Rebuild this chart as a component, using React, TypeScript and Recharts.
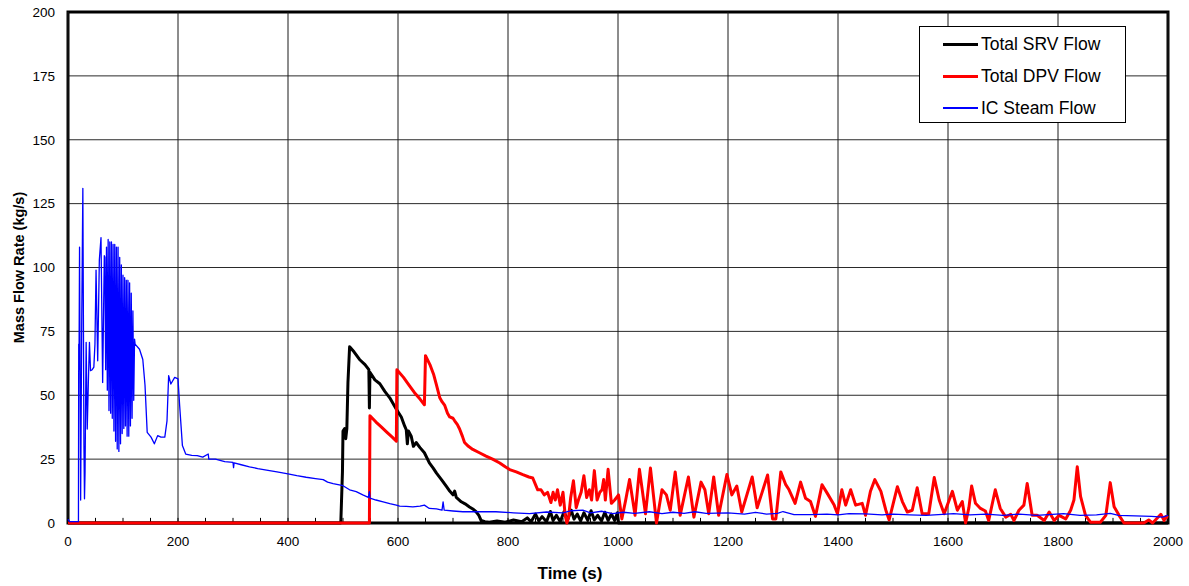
import { LineChart, Line, XAxis, YAxis, CartesianGrid, Legend, ReferenceArea, ReferenceLine, Label } from "recharts";

const FONT = "'Liberation Sans', Arial, sans-serif";

// [time (s), mass flow (kg/s)]
const srvFlow: [number, number][] = [
  [0, 0], [496, 0], [499, 20], [500, 36], [503, 37], [505, 33], [507, 37], [509, 55], [512, 69],
  [520, 67], [530, 64], [540, 62], [547, 60], [548, 45], [549, 59], [558, 56], [567, 54.5],
  [576, 51.5], [585, 49], [597, 44.5], [606, 41.5], [612, 38], [615, 36.5], [617, 31], [619, 36],
  [624, 34], [628, 30], [633, 31.5], [640, 29.5], [648, 27.5], [657, 23.5], [664, 21.5],
  [670, 19.5], [679, 17], [688, 14.3], [694, 12.5], [700, 11], [703, 12.5], [706, 10], [715, 8.3],
  [722, 7.5], [730, 6.3], [736, 5.5], [742, 4.4], [747, 3], [751, 1], [758, 0.5], [766, 0.3],
  [780, 0.8], [795, 0.3], [810, 1.2], [825, 0.5], [835, 2], [842, 0.5], [850, 3.5], [856, 0.8],
  [862, 2.5], [870, 0.5], [877, 4.5], [882, 1], [888, 3], [895, 0.5], [902, 4.5], [908, 1],
  [915, 5], [920, 1.5], [926, 3.5], [932, 0.8], [938, 4], [945, 1], [951, 4.8], [957, 1.2],
  [963, 3], [970, 0.8], [976, 4.2], [982, 1], [988, 3.5], [994, 1], [999, 4], [1001, 0], [2000, 0],
];

const dpvFlow: [number, number][] = [
  [0, 0], [548, 0], [549, 42], [560, 39.5], [570, 37.5], [580, 35.5], [590, 33.5], [597, 32],
  [598, 60], [610, 57], [620, 54], [630, 51], [640, 48.5], [648, 46.3], [650, 65.5], [658, 62],
  [665, 58], [670, 54], [676, 49], [680, 47.5], [685, 46], [690, 43], [694, 41.5], [700, 41],
  [703, 40], [708, 38.5], [712, 36.8], [717, 34], [721, 31.5], [728, 30], [736, 28.8], [748, 27.5],
  [760, 26.2], [772, 25], [785, 23.5], [795, 22], [803, 20.9], [815, 20], [827, 18.9], [838, 18],
  [845, 17.6], [850, 15], [854, 13], [860, 13], [866, 11], [872, 12], [878, 8], [882, 12], [886, 9],
  [890, 13], [895, 7], [900, 12], [904, 3], [907, 0], [910, 2], [914, 10], [919, 16.5], [924, 6],
  [928, 9], [933, 12], [938, 18.5], [943, 10], [948, 13], [952, 9], [957, 20.5], [962, 9],
  [967, 12], [971, 13], [974, 17], [977, 9], [982, 21], [988, 7.7], [994, 9], [1001, 11],
  [1007, 1.6], [1014, 9], [1021, 17], [1031, 3], [1039, 21], [1050, 3.6], [1059, 21.5], [1070, 0],
  [1080, 13], [1088, 11], [1095, 5], [1104, 20], [1113, 3], [1128, 18], [1138, 2.3], [1151, 16],
  [1158, 13], [1165, 3.6], [1174, 18], [1183, 3], [1198, 19], [1207, 11], [1216, 14.5], [1225, 4.3],
  [1244, 18], [1253, 6], [1262, 12], [1272, 18.8], [1281, 1.6], [1287, 1.6], [1296, 20],
  [1305, 15], [1311, 13], [1322, 7.7], [1332, 16], [1341, 9.7], [1350, 8.4], [1359, 2.6],
  [1371, 15], [1380, 11.8], [1393, 7], [1399, 3.6], [1407, 13], [1414, 7], [1423, 13], [1432, 7],
  [1444, 7.7], [1450, 3], [1459, 12.4], [1467, 17], [1478, 12.4], [1487, 5], [1493, 1.2],
  [1508, 14.2], [1517, 8.4], [1526, 4.3], [1535, 5], [1544, 13.8], [1553, 3.6], [1565, 3.6],
  [1575, 17.8], [1584, 9], [1593, 3.6], [1608, 12.4], [1617, 5], [1626, 8.4], [1632, 0], [1638, 6],
  [1643, 14.5], [1650, 7.7], [1659, 5.7], [1668, 4.7], [1674, 1], [1686, 13], [1695, 5.7],
  [1705, 2.3], [1714, 3.4], [1720, 1], [1729, 5], [1738, 7], [1744, 15.5], [1753, 3], [1762, 3],
  [1775, 1], [1784, 4.3], [1793, 1], [1802, 3], [1814, 1.6], [1823, 5], [1829, 9], [1835, 22],
  [1841, 10.4], [1850, 3], [1859, 0.3], [1877, 0.3], [1887, 3], [1895, 15.8], [1902, 6.4],
  [1911, 3], [1920, 0], [1956, 0], [1965, 1.2], [1972, 0], [1987, 3.4], [1993, 1], [1996, 2.5],
  [2000, 2],
];

const icFlow: [number, number][] = [
  [0, 1.5], [3, 0.5], [19, 0.5], [19.5, 70], [20, 60], [21, 108], [23, 9], [25, 80], [27, 131],
  [29, 30], [30, 9.5], [31, 20], [33, 70.7], [35, 36.8], [37, 55], [39, 70.7], [41, 59.6], [44, 60],
  [47, 61], [49, 70], [51, 99], [54, 63.5], [57, 103], [60, 111.7], [63, 55], [66, 104.6],
  [67, 104], [68.5, 60], [70, 108], [71.5, 52], [73, 111], [74.5, 44], [76, 110], [77.5, 43],
  [79, 110], [80.5, 41], [82, 109], [83.5, 36], [85, 109], [86.5, 32], [88, 108], [89.5, 29],
  [91, 108], [92.5, 28], [94, 104], [95.5, 31], [97, 101], [98.5, 35], [100, 97], [101.5, 37],
  [103, 96], [104.5, 38], [106, 95], [107.5, 34], [109, 95], [110.5, 34], [112, 94], [113.5, 38],
  [115, 90], [116.5, 41], [118, 83], [119.5, 48], [121, 72], [122, 70], [130, 68], [136, 64],
  [140, 54], [144, 35.5], [151, 33.6], [157, 31], [163, 34.2], [169, 33.6], [176, 33.6], [180, 40],
  [183, 57.7], [187, 54.4], [194, 57], [200, 56.4], [203, 46], [208, 30.3], [214, 27], [225, 26.5],
  [235, 26.4], [245, 25.8], [255, 27], [256, 25], [268, 25], [285, 24], [300, 23.7], [301, 21.7],
  [302, 23.5], [315, 22.8], [330, 22], [345, 21.3], [361, 20.7], [380, 20], [400, 19.2],
  [416, 18.5], [433, 17.9], [450, 17.4], [464, 17], [472, 16], [482, 15.4], [500, 14.6], [512, 13],
  [524, 12.3], [536, 11], [546, 10], [548, 12.3], [549, 9.7], [560, 9], [573, 8.3], [585, 7.6],
  [597, 7], [603, 6.6], [615, 6.5], [627, 6.3], [640, 6.6], [648, 7], [657, 5.7], [670, 5.5],
  [680, 5], [682, 8.3], [684, 5], [700, 4.7], [718, 4.4], [748, 4.4], [778, 4.4], [810, 4],
  [839, 3.7], [870, 4.3], [900, 4], [915, 4.8], [936, 5], [950, 4], [970, 4.6], [990, 3.7],
  [1010, 4.2], [1030, 3.8], [1057, 4.4], [1080, 3.7], [1100, 4.2], [1120, 3.8], [1140, 4.4],
  [1160, 3.8], [1180, 3.9], [1200, 4], [1230, 3.5], [1250, 4.2], [1270, 3.5], [1290, 3.8],
  [1300, 4.5], [1320, 3.3], [1350, 3.3], [1380, 3.5], [1400, 3.2], [1420, 3.7], [1450, 3.6],
  [1480, 3.2], [1500, 3.5], [1530, 3.2], [1560, 3], [1590, 3.4], [1610, 3.7], [1640, 3.2],
  [1670, 3.5], [1700, 3], [1730, 3.5], [1760, 3], [1790, 3.4], [1810, 3.7], [1840, 3], [1870, 3.2],
  [1895, 3.8], [1910, 3], [1940, 2.8], [1970, 2.6], [1990, 2.3], [2000, 3],
];

const xMajorTicks = [0, 200, 400, 600, 800, 1000, 1200, 1400, 1600, 1800, 2000];
const xMinorTicks = Array.from({ length: 41 }, (_, i) => i * 50);
const yTicks = [0, 25, 50, 75, 100, 125, 150, 175, 200];

const SERIES = [
  { key: "srv", name: "Total SRV Flow", color: "#000000", width: 3, data: srvFlow },
  { key: "dpv", name: "Total DPV Flow", color: "#ff0000", width: 3, data: dpvFlow },
  { key: "ic", name: "IC Steam Flow", color: "#0000ff", width: 1.3, data: icFlow },
];

const toPoints = (rows: [number, number][]) => rows.map(([t, v]) => ({ t, v }));

const LegendBox = () => (
  <div style={{ border: "1px solid #000", background: "#fff", width: 207, height: 97, boxSizing: "border-box", padding: "1px 0 0 23px", fontFamily: FONT }}>
    {SERIES.map(s => (
      <div key={s.key} style={{ display: "flex", alignItems: "center", height: 32 }}>
        <div style={{ width: 35, height: s.width, background: s.color, marginRight: 3 }} />
        <span style={{ fontSize: 17.5, color: "#000" }}>{s.name}</span>
      </div>
    ))}
  </div>
);

export default function App() {
  return (
    <div style={{ position: "fixed", left: 0, top: 0, width: 1189, height: 586, background: "#fff" }}>
      <LineChart width={1189} height={586} margin={{ top: 12, right: 21, left: 8, bottom: 13 }}>
        <CartesianGrid vertical={false} stroke="#2a2a2a" strokeWidth={1} />
        <XAxis type="number" dataKey="t" domain={[0, 2000]} ticks={xMajorTicks} height={50}
          axisLine={false} tickLine={false} tickSize={0} tickMargin={13}
          tick={{ fontSize: 13.5, fill: "#000", fontFamily: FONT }}>
          <Label value="Time (s)" position="center" dx={-48} dy={25}
            style={{ fontSize: 17, fontWeight: "bold", fill: "#000", fontFamily: FONT }} />
        </XAxis>
        <YAxis type="number" domain={[0, 200]} ticks={yTicks} width={60} axisLine={false}
          tickLine={false} tickSize={0} tickMargin={13}
          tick={{ fontSize: 13.5, fill: "#000", fontFamily: FONT }}>
          <Label value="Mass Flow Rate (kg/s)" angle={-90} position="center" dx={-19} dy={0}
            style={{ fontSize: 14.5, fontWeight: "bold", fill: "#000", fontFamily: FONT }} />
        </YAxis>
        {xMajorTicks.map(x => (
          <ReferenceLine key={`g${x}`} x={x} stroke="#1a1a1a" strokeWidth={1} />
        ))}
        {xMinorTicks.map(x => (
          <ReferenceLine key={`m${x}`} segment={[{ x, y: 0 }, { x, y: 2 }]} stroke="#000" strokeWidth={1} />
        ))}
        {SERIES.map(s => (
          <Line key={s.key} data={toPoints(s.data)} dataKey="v" name={s.name} type="linear"
            stroke={s.color} strokeWidth={s.width} strokeLinejoin="round" dot={false} activeDot={false}
            isAnimationActive={false} />
        ))}
        <ReferenceArea x1={0} x2={2000} y1={0} y2={200} fill="none" fillOpacity={0} stroke="#000" strokeWidth={3} />
        <Legend layout="vertical" align="center" verticalAlign="middle" content={() => <LegendBox />}
          wrapperStyle={{ left: 919, top: 26, width: 207, height: 97 }} />
      </LineChart>
    </div>
  );
}
